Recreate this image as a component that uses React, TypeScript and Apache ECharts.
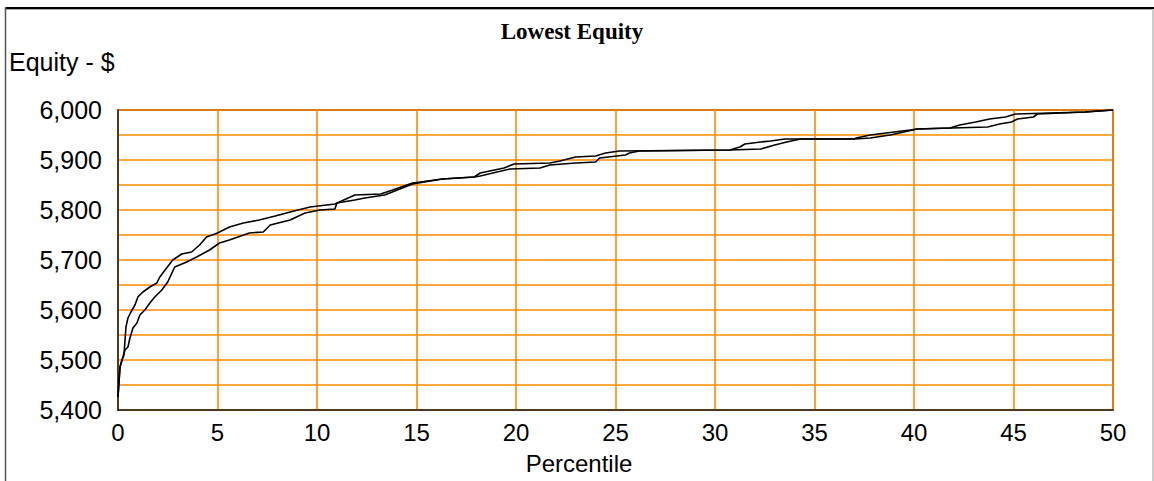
import React, { useEffect, useRef } from "react";
import * as echarts from "echarts";

// Percentile positions and equity values (upper curve)
const upperPct = [0, 0.1, 0.2, 0.3, 0.4, 0.5, 0.65, 0.85, 1.0, 1.25, 1.6, 1.95, 2.1, 2.75, 3.2, 3.7, 4.1, 4.45, 5.0, 5.6, 6.3, 7.1, 7.9, 8.65, 9.65, 10.9, 11.9, 13.2, 13.8, 14.8, 16.3, 17.9, 18.2, 19.4, 19.9, 21.7, 22.2, 23.0, 24.0, 24.5, 25.2, 30.75, 31.25, 31.5, 32.3, 32.8, 33.5, 37.0, 37.1, 37.8, 39.0, 39.8, 40.15, 41.8, 42.3, 43.1, 43.8, 44.6, 45.1, 48.6, 49.3, 50];
const upperEquity = [5426, 5486, 5500, 5510, 5566, 5584, 5596, 5610, 5626, 5636, 5646, 5654, 5666, 5700, 5712, 5716, 5730, 5746, 5754, 5766, 5774, 5780, 5788, 5796, 5806, 5812, 5830, 5832, 5840, 5854, 5862, 5866, 5874, 5884, 5892, 5894, 5898, 5906, 5908, 5914, 5918, 5920, 5926, 5932, 5936, 5938, 5942, 5942, 5944, 5950, 5956, 5960, 5962, 5964, 5970, 5976, 5982, 5986, 5992, 5996, 5998, 6000];

// Lower curve
const lowerPct = [0, 0.1, 0.35, 0.5, 0.6, 0.75, 0.95, 1.1, 1.35, 1.6, 1.85, 2.2, 2.5, 2.85, 3.45, 3.95, 4.6, 5.1, 5.6, 6.6, 7.3, 7.65, 8.65, 9.4, 10.15, 10.9, 11.0, 11.9, 12.4, 13.4, 14.8, 16.3, 17.9, 18.2, 19.7, 21.2, 21.7, 23.0, 24.0, 24.2, 25.5, 25.7, 26.2, 30.75, 32.3, 33.0, 33.6, 34.3, 37.0, 37.8, 38.8, 39.5, 40.15, 43.7, 44.3, 44.9, 45.2, 46.0, 46.2, 48.6, 49.3, 50];
const lowerEquity = [5426, 5486, 5520, 5526, 5544, 5564, 5574, 5590, 5600, 5614, 5626, 5640, 5656, 5686, 5696, 5706, 5720, 5734, 5740, 5754, 5756, 5770, 5780, 5794, 5800, 5802, 5814, 5820, 5824, 5830, 5852, 5862, 5866, 5868, 5882, 5884, 5890, 5894, 5896, 5904, 5910, 5914, 5918, 5920, 5922, 5930, 5936, 5942, 5942, 5944, 5950, 5956, 5962, 5966, 5972, 5976, 5982, 5986, 5992, 5996, 5998, 6000];

const titleText = "Lowest Equity";
const yAxisTitle = "Equity - $";
const xAxisTitle = "Percentile";

const yMin = 5400;
const yMax = 6000;
const xMin = 0;
const xMax = 50;

export default function App() {
  const ref = useRef<HTMLDivElement>(null);

  useEffect(() => {
    if (!ref.current) return;
    const chart = echarts.init(ref.current, null, { renderer: "svg" });
    const font = "'Liberation Sans', Arial, sans-serif";
    const orange = "#ff8a00";
    const toPairs = (xs: number[], ys: number[]) => xs.map((x, i) => [x, ys[i]]);
    chart.setOption({
      animation: false,
      backgroundColor: "#ffffff",
      grid: {
        left: 118,
        top: 110,
        right: 41,
        bottom: 71,
        show: true,
        borderColor: "#222",
        borderWidth: 1.5,
      },
      xAxis: {
        type: "value",
        min: xMin,
        max: xMax,
        interval: 5,
        axisLine: { show: true, lineStyle: { color: "#222", width: 1.5 } },
        axisTick: { show: false },
        axisLabel: { fontFamily: font, fontSize: 24, color: "#000", margin: 10, lineHeight: 24 },
        splitLine: { show: true, lineStyle: { color: orange, width: 1.6 } },
      },
      yAxis: {
        type: "value",
        min: yMin,
        max: yMax,
        interval: 50,
        axisLine: { show: true, lineStyle: { color: "#222", width: 1.5 } },
        axisTick: { show: false },
        axisLabel: {
          fontFamily: font,
          fontSize: 25,
          color: "#000",
          margin: 16,
          formatter: (v: number) => (v % 100 === 0 ? v.toLocaleString("en-US") : ""),
        },
        splitLine: { show: true, lineStyle: { color: orange, width: 1.6 } },
      },
      series: [
        {
          type: "line",
          data: toPairs(upperPct, upperEquity),
          symbol: "none",
          lineStyle: { color: "#000", width: 1.6 },
          z: 5,
        },
        {
          type: "line",
          data: toPairs(lowerPct, lowerEquity),
          symbol: "none",
          lineStyle: { color: "#000", width: 1.6 },
          z: 5,
        },
      ],
      graphic: [
        {
          type: "line",
          shape: { x1: 5, y1: 8, x2: 1154, y2: 8 },
          style: { stroke: "#000", lineWidth: 2 },
        },
        {
          type: "line",
          shape: { x1: 5, y1: 9.5, x2: 1152, y2: 9.5 },
          style: { stroke: "#aaa", lineWidth: 1 },
        },
        {
          type: "line",
          shape: { x1: 5.5, y1: 7, x2: 5.5, y2: 481 },
          style: { stroke: "#555", lineWidth: 1.5 },
        },
        {
          type: "line",
          shape: { x1: 1153, y1: 9, x2: 1153, y2: 481 },
          style: { stroke: "#999", lineWidth: 1 },
        },
        {
          type: "text",
          x: 572,
          y: 31,
          style: {
            text: titleText,
            font: "bold 23px 'Liberation Serif', 'Times New Roman', serif",
            fill: "#000",
            align: "center",
            verticalAlign: "middle",
          },
        },
        {
          type: "text",
          x: 9,
          y: 62,
          style: {
            text: yAxisTitle,
            font: "25px " + font,
            fill: "#000",
            align: "left",
            verticalAlign: "middle",
          },
        },
        {
          type: "text",
          x: 579,
          y: 463,
          style: {
            text: xAxisTitle,
            font: "24px " + font,
            fill: "#000",
            align: "center",
            verticalAlign: "middle",
          },
        },
      ],
    });
    return () => chart.dispose();
  }, []);

  return (
    <div
      ref={ref}
      style={{ position: "fixed", left: 0, top: 0, width: 1154, height: 481, background: "#fff" }}
    />
  );
}
